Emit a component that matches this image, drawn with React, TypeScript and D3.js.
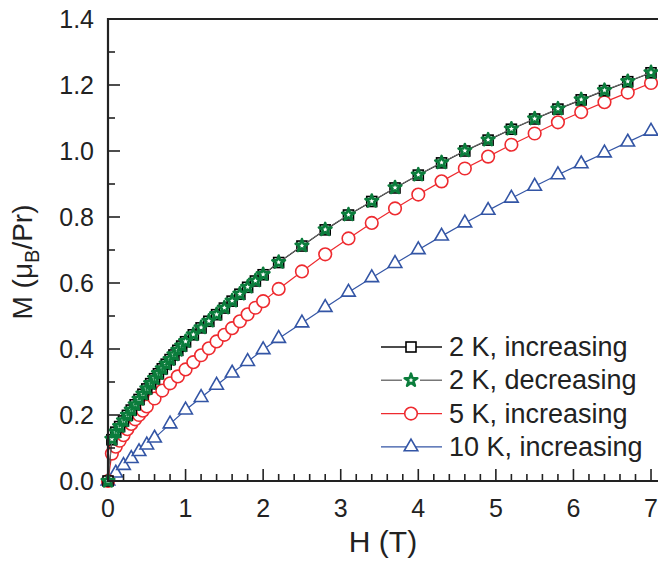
import React from "react";
import * as d3 from "d3";

const H2 = [0,0.05,0.1,0.15,0.2,0.25,0.3,0.35,0.4,0.45,0.5,0.55,0.6,0.65,0.7,0.75,0.8,0.85,0.9,0.95,1.0,1.1,1.2,1.3,1.4,1.5,1.6,1.7,1.8,1.9,2.0,2.2,2.5,2.8,3.1,3.4,3.7,4.0,4.3,4.6,4.9,5.2,5.5,5.8,6.1,6.4,6.7,7.0];
const M2inc = [0,0.125,0.148,0.165,0.182,0.199,0.215,0.231,0.247,0.263,0.279,0.295,0.31,0.325,0.34,0.354,0.368,0.382,0.396,0.409,0.422,0.443,0.464,0.484,0.504,0.524,0.545,0.566,0.587,0.606,0.625,0.662,0.712,0.761,0.806,0.847,0.888,0.927,0.964,1.0,1.033,1.066,1.097,1.127,1.155,1.183,1.21,1.237];
const M2dec = [0,0.127,0.149,0.166,0.183,0.2,0.216,0.232,0.248,0.264,0.28,0.296,0.311,0.326,0.341,0.355,0.369,0.383,0.397,0.41,0.423,0.444,0.465,0.485,0.505,0.525,0.546,0.567,0.588,0.607,0.626,0.663,0.713,0.762,0.807,0.848,0.889,0.928,0.965,1.001,1.034,1.067,1.098,1.128,1.156,1.184,1.211,1.238];
const H5 = [0,0.05,0.1,0.15,0.2,0.25,0.3,0.35,0.4,0.45,0.5,0.6,0.7,0.8,0.9,1.0,1.1,1.2,1.3,1.4,1.5,1.6,1.7,1.8,1.9,2.0,2.2,2.5,2.8,3.1,3.4,3.7,4.0,4.3,4.6,4.9,5.2,5.5,5.8,6.1,6.4,6.7,7.0];
const M5 = [0,0.083,0.104,0.122,0.139,0.157,0.173,0.187,0.2,0.213,0.226,0.25,0.274,0.296,0.317,0.338,0.36,0.381,0.402,0.423,0.443,0.463,0.484,0.505,0.525,0.545,0.582,0.635,0.687,0.735,0.782,0.826,0.868,0.908,0.947,0.983,1.019,1.053,1.087,1.118,1.148,1.177,1.206];
const H10 = [0,0.1,0.2,0.3,0.4,0.5,0.6,0.8,1.0,1.2,1.4,1.6,1.8,2.0,2.2,2.5,2.8,3.1,3.4,3.7,4.0,4.3,4.6,4.9,5.2,5.5,5.8,6.1,6.4,6.7,7.0];
const M10 = [0,0.024,0.047,0.068,0.089,0.109,0.13,0.173,0.215,0.253,0.29,0.327,0.362,0.398,0.432,0.479,0.526,0.572,0.616,0.659,0.701,0.742,0.782,0.82,0.857,0.893,0.928,0.961,0.994,1.027,1.06];

const xTicks = [0,1,2,3,4,5,6,7];
const yTicks = [0,0.2,0.4,0.6,0.8,1.0,1.2,1.4];
const legendLabels = ["2 K, increasing","2 K, decreasing","5 K, increasing","10 K, increasing"];

const RED = "#ee2a2f";
const BLUE = "#3355a5";
const GREEN = "#0b7d3c";
const FONT = "'Liberation Sans', Arial, Helvetica, sans-serif";

const x = d3.scaleLinear().domain([0, 7.09]).range([108, 658]);
const y = d3.scaleLinear().domain([0, 1.4]).range([481, 19]);

const line = d3.line<[number, number]>().x(d => x(d[0])).y(d => y(d[1]));
const zip = (a: number[], b: number[]) => a.map((v, i) => [v, b[i]] as [number, number]);

const starPath = d3.symbol().type(d3.symbolStar).size(50)()!;
const triPath = d3.symbol().type(d3.symbolTriangle).size(80)()!;

function Marker({ kind, cx, cy }: { kind: string; cx: number; cy: number }) {
  if (kind === "square")
    return <rect x={cx - 5} y={cy - 5} width={10} height={10} fill="white" stroke="black" strokeWidth={1.6} />;
  if (kind === "star")
    return <path d={starPath} transform={`translate(${cx},${cy})`} fill="white" stroke={GREEN} strokeWidth={2.5} strokeLinejoin="round" />;
  if (kind === "circle")
    return <circle cx={cx} cy={cy} r={6.3} fill="white" stroke={RED} strokeWidth={1.6} />;
  return <path d={triPath} transform={`translate(${cx},${cy})`} fill="white" stroke={BLUE} strokeWidth={1.6} />;
}

const series = [
  { H: H10, M: M10, color: BLUE, kind: "tri", lw: 1.2 },
  { H: H5, M: M5, color: RED, kind: "circle", lw: 1.2 },
  { H: H2, M: M2inc, color: "#111", kind: "square", lw: 1.2 },
  { H: H2, M: M2dec, color: "#777", kind: "star", lw: 1.0 },
];
const legendOrder = [
  { color: "#111", kind: "square" },
  { color: "#777", kind: "star" },
  { color: RED, kind: "circle" },
  { color: BLUE, kind: "tri" },
];

export default function App() {
  const minorX = d3.range(0, 7.09, 0.2).filter(v => Math.abs(v - Math.round(v)) > 1e-6);
  const minorY = d3.range(0.1, 1.4, 0.2);
  return (
    <svg width={658} height={562} style={{ position: "absolute", left: 0, top: 0 }} fontFamily={FONT}>
      <rect width={658} height={562} fill="white" />
      {series.map((s, i) => (
        <g key={i}>
          <path d={line(zip(s.H, s.M))!} fill="none" stroke={s.color} strokeWidth={s.lw} />
          {s.H.map((h, j) => (
            <Marker key={j} kind={s.kind} cx={x(h)} cy={y(s.M[j])} />
          ))}
        </g>
      ))}
      <line x1={108} x2={108} y1={18} y2={482} stroke="#222" strokeWidth={2.2} />
      <line x1={107} x2={658} y1={481} y2={481} stroke="#222" strokeWidth={2.2} />
      <line x1={107} x2={658} y1={19} y2={19} stroke="#222" strokeWidth={2.2} />
      {yTicks.map(t => (
        <g key={"y" + t}>
          <line x1={108} x2={120} y1={y(t)} y2={y(t)} stroke="#222" strokeWidth={1.6} />
          <text x={94} y={y(t) + 9} textAnchor="end" fontSize={25} fill="#222">{t.toFixed(1)}</text>
        </g>
      ))}
      {minorY.map(t => (
        <line key={"my" + t} x1={108} x2={115} y1={y(t)} y2={y(t)} stroke="#222" strokeWidth={1.6} />
      ))}
      {xTicks.map(t => (
        <g key={"x" + t}>
          <line x1={x(t)} x2={x(t)} y1={481} y2={469} stroke="#222" strokeWidth={1.6} />
          <text x={x(t)} y={517} textAnchor="middle" fontSize={25} fill="#222">{t}</text>
        </g>
      ))}
      {minorX.map(t => (
        <line key={"mx" + t} x1={x(t)} x2={x(t)} y1={481} y2={474} stroke="#222" strokeWidth={1.6} />
      ))}
      <text x={383} y={552} textAnchor="middle" fontSize={30} fill="#222">H (T)</text>
      <text transform="translate(32,262) rotate(-90)" textAnchor="middle" fontSize={28} fill="#222">
        M (μ<tspan fontSize={20} dy={7}>B</tspan><tspan dy={-7}>/Pr)</tspan>
      </text>
      {legendOrder.map((l, i) => {
        const cy = 347 + i * 33.3;
        return (
          <g key={"lg" + i}>
            <line x1={381} x2={442} y1={cy} y2={cy} stroke={l.color} strokeWidth={1.4} />
            {l.kind === "star" && <line x1={402} x2={420} y1={cy} y2={cy} stroke="white" strokeWidth={3} />}
            <Marker kind={l.kind} cx={411} cy={cy} />
            <text x={449} y={cy + 9} fontSize={27} fill="#222">{legendLabels[i]}</text>
          </g>
        );
      })}
    </svg>
  );
}
